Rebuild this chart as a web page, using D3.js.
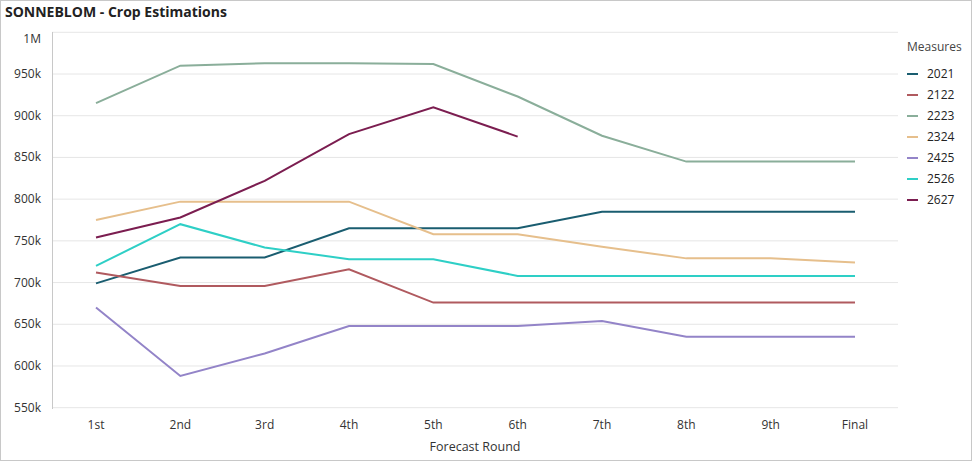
<!DOCTYPE html>
<html><head><meta charset="utf-8">
<script src="https://cdn.jsdelivr.net/npm/d3@7"></script>
<style>body{margin:0;background:#fff;font-family:"Open Sans",sans-serif;}</style>
</head><body><div class="container"></div>
<script>
var rounds = ['1st','2nd','3rd','4th','5th','6th','7th','8th','9th','Final']
var seriesNames = ['2021','2122','2223','2324','2425','2526','2627']
var colors = ['#1a5d70','#b05a5f','#8aae9a','#e6bf8c','#9384c8','#2ecfc6','#7b1d50']
var s2021 = [699,730,730,765,765,765,785,785,785,785]
var s2122 = [712,696,696,716,676,676,676,676,676,676]
var s2223 = [915,960,963,963,962,923,876,845,845,845]
var s2324 = [775,797,797,797,758,758,743,729,729,724]
var s2425 = [670,588,615,648,648,648,654,635,635,635]
var s2526 = [720,770,742,728,728,708,708,708,708,708]
var s2627 = [754,778,822,878,910,875]
var yTicks = [550,600,650,700,750,800,850,900,950,1000]
var allSeries = [s2021,s2122,s2223,s2324,s2425,s2526,s2627]

var W = 972, H = 461
var svg = d3.select('.container').append('svg').attr('width', W).attr('height', H)
svg.append('rect').attr('x',0.5).attr('y',0.5).attr('width',W-1).attr('height',H-1)
   .attr('fill','#fff').attr('stroke','#c8c8c8')
svg.append('text').attr('x',5).attr('y',17).text('SONNEBLOM - Crop Estimations')
   .style('font-weight','bold').style('font-size','14px').attr('fill','#222')

var x = d3.scalePoint().domain(rounds).range([96,855])
var y = d3.scaleLinear().domain([550,1000]).range([407.7,32.3])

// gridlines
svg.selectAll('.grid').data(yTicks).enter().append('line')
   .attr('x1',52).attr('x2',898).attr('y1',function(d){return y(d)}).attr('y2',function(d){return y(d)})
   .attr('stroke','#e6e6e6')
svg.append('line').attr('x1',52.5).attr('x2',52.5).attr('y1',32).attr('y2',409).attr('stroke','#c8c8c8')

svg.selectAll('.ylab').data(yTicks).enter().append('text')
   .attr('x',41).attr('y',function(d){return y(d) + (d===1000 ? 11 : 4)}).attr('text-anchor','end')
   .style('font-size','12px').attr('fill','#333')
   .text(function(d){return d===1000 ? '1M' : d+'k'})

svg.selectAll('.xlab').data(rounds).enter().append('text')
   .attr('x',function(d){return x(d)}).attr('y',429).attr('text-anchor','middle')
   .style('font-size','12px').attr('fill','#333').text(function(d){return d})
svg.append('text').attr('x',475).attr('y',451).attr('text-anchor','middle')
   .style('font-size','12.5px').attr('fill','#333').text('Forecast Round')

var line = d3.line().x(function(d,i){return x(rounds[i])}).y(function(d){return y(d)})
allSeries.forEach(function(s,i){
  svg.append('path').datum(s).attr('d',line).attr('fill','none')
     .attr('stroke',colors[i]).attr('stroke-width',2)
})

// legend
svg.append('text').attr('x',907).attr('y',51).text('Measures')
   .style('font-size','12px').attr('fill','#444')
seriesNames.forEach(function(n,i){
  var yy = 74 + i*21
  svg.append('line').attr('x1',907).attr('x2',918).attr('y1',yy).attr('y2',yy)
     .attr('stroke',colors[i]).attr('stroke-width',2)
  svg.append('text').attr('x',927).attr('y',yy+4).text(n)
     .style('font-size','12px').attr('fill','#222')
})
</script></body></html>
